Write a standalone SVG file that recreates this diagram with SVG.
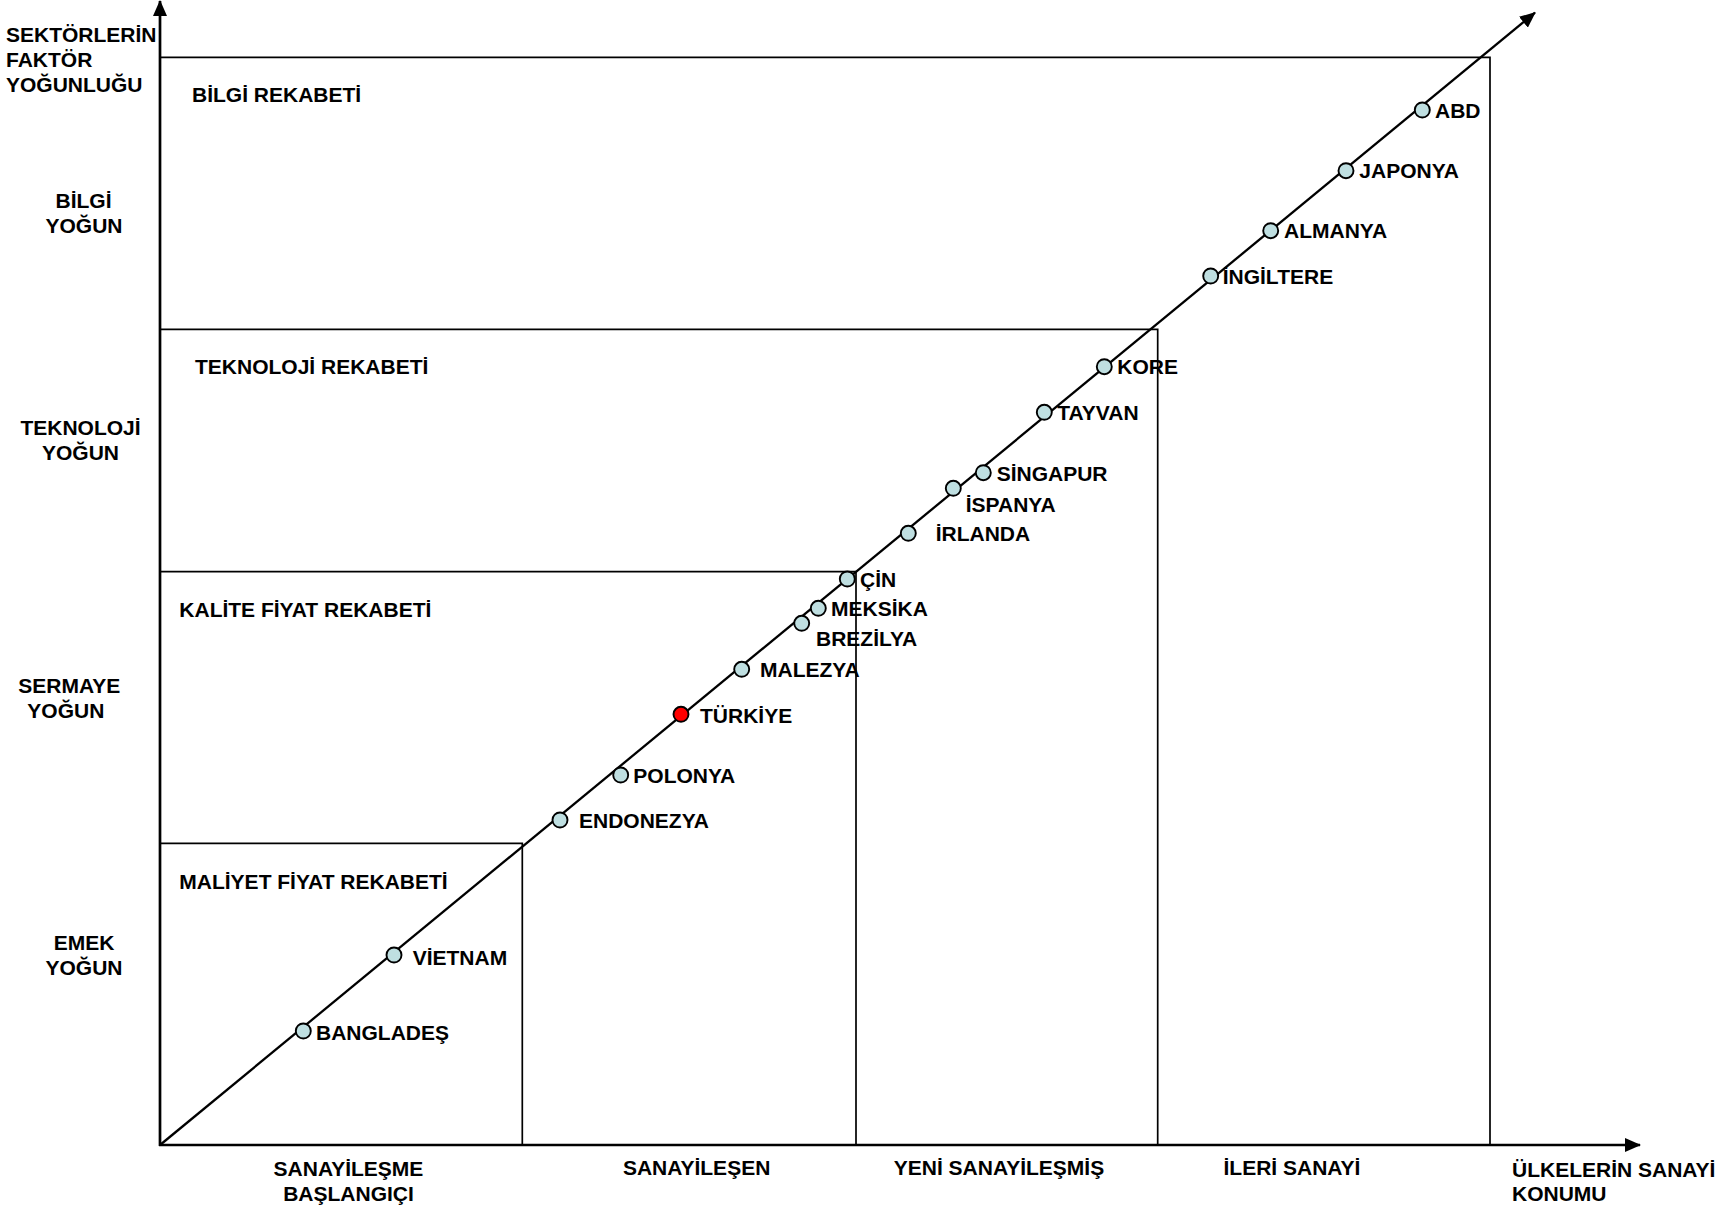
<svg xmlns="http://www.w3.org/2000/svg" width="1728" height="1206" viewBox="0 0 1728 1206">
<style>
text{font-family:"Liberation Sans",Arial,sans-serif;font-weight:bold;font-size:21px;fill:#000}
.m{text-anchor:middle}
.box{fill:none;stroke:#000;stroke-width:1.7}
.axis{fill:none;stroke:#000;stroke-width:2.7}
.diag{fill:none;stroke:#000;stroke-width:2.3}
.pt{fill:#bfdfe1;stroke:#000;stroke-width:1.9}
.red{fill:#ff0000;stroke:#000;stroke-width:1.9}
</style>
<defs>
<marker id="arr" viewBox="0 0 16 14" refX="15" refY="7" markerWidth="16" markerHeight="14" orient="auto" markerUnits="userSpaceOnUse"><path d="M0,0 L16,7 L0,14 z" fill="#000"/></marker>
</defs>
<rect width="1728" height="1206" fill="#fff"/>
<g id="regions">
<polyline class="box" points="160,57.3 1490,57.3 1490,1145"/>
<polyline class="box" points="160,329.3 1157.7,329.3 1157.7,1145"/>
<polyline class="box" points="160,571.7 856,571.7 856,1145"/>
<polyline class="box" points="160,843.3 522.3,843.3 522.3,1145"/>
</g>
<g id="connectors">
<line class="axis" x1="160" y1="1146" x2="160" y2="1" marker-end="url(#arr)"/>
<line class="axis" x1="159" y1="1145" x2="1640" y2="1145" marker-end="url(#arr)"/>
<line class="diag" x1="160" y1="1145" x2="1535" y2="12.7" marker-end="url(#arr)"/>
</g>
<g id="axis-labels">
<text x="6" y="42">SEKTÖRLERİN</text>
<text x="6" y="67">FAKTÖR</text>
<text x="6" y="92">YOĞUNLUĞU</text>
<text class="m" x="83.5" y="208.3">BİLGİ</text>
<text class="m" x="84" y="233.3">YOĞUN</text>
<text class="m" x="80.5" y="435">TEKNOLOJİ</text>
<text class="m" x="80.5" y="460">YOĞUN</text>
<text x="18.3" y="692.7">SERMAYE</text>
<text x="27.3" y="717.7">YOĞUN</text>
<text class="m" x="84" y="950">EMEK</text>
<text class="m" x="84" y="975">YOĞUN</text>
<text class="m" x="348.5" y="1176">SANAYİLEŞME</text>
<text class="m" x="348.5" y="1201">BAŞLANGIÇI</text>
<text class="m" x="696.6" y="1175">SANAYİLEŞEN</text>
<text class="m" x="999" y="1175">YENİ SANAYİLEŞMİŞ</text>
<text class="m" x="1292" y="1175">İLERİ SANAYİ</text>
<text x="1512" y="1177">ÜLKELERİN SANAYİ</text>
<text x="1512" y="1201">KONUMU</text>
</g>
<g id="region-labels">
<text x="192" y="102">BİLGİ REKABETİ</text>
<text x="195" y="374">TEKNOLOJİ REKABETİ</text>
<text x="179.3" y="616.7">KALİTE FİYAT REKABETİ</text>
<text x="179.3" y="889">MALİYET FİYAT REKABETİ</text>
</g>
<g id="node-bangladesh"><circle class="pt" cx="303.3" cy="1031" r="7.5"/><text x="316" y="1040">BANGLADEŞ</text></g>
<g id="node-vietnam"><circle class="pt" cx="394" cy="955" r="7.5"/><text x="412.7" y="965">VİETNAM</text></g>
<g id="node-endonezya"><circle class="pt" cx="560" cy="820" r="7.5"/><text x="579" y="828.3">ENDONEZYA</text></g>
<g id="node-polonya"><circle class="pt" cx="620.7" cy="775" r="7.5"/><text x="633.3" y="782.7">POLONYA</text></g>
<g id="node-turkiye"><circle class="red" cx="681" cy="714.3" r="7.5"/><text x="700" y="722.7">TÜRKİYE</text></g>
<g id="node-malezya"><circle class="pt" cx="741.7" cy="669.3" r="7.5"/><text x="760" y="677.3">MALEZYA</text></g>
<g id="node-brezilya"><circle class="pt" cx="801.7" cy="623.3" r="7.5"/><text x="816" y="646">BREZİLYA</text></g>
<g id="node-meksika"><circle class="pt" cx="818.3" cy="608.3" r="7.5"/><text x="831" y="616">MEKSİKA</text></g>
<g id="node-cin"><circle class="pt" cx="847.3" cy="579" r="7.5"/><text x="860" y="586.7">ÇİN</text></g>
<g id="node-irlanda"><circle class="pt" cx="908.3" cy="533.3" r="7.5"/><text x="935.7" y="540.7">İRLANDA</text></g>
<g id="node-ispanya"><circle class="pt" cx="953.3" cy="488.3" r="7.5"/><text x="965.7" y="511.7">İSPANYA</text></g>
<g id="node-singapur"><circle class="pt" cx="983.3" cy="472.7" r="7.5"/><text x="996.7" y="480.7">SİNGAPUR</text></g>
<g id="node-tayvan"><circle class="pt" cx="1044.3" cy="412.3" r="7.5"/><text x="1057.3" y="420">TAYVAN</text></g>
<g id="node-kore"><circle class="pt" cx="1104.3" cy="366.7" r="7.5"/><text x="1117.3" y="374.3">KORE</text></g>
<g id="node-ingiltere"><circle class="pt" cx="1210.7" cy="276" r="7.5"/><text x="1222.7" y="284">İNGİLTERE</text></g>
<g id="node-almanya"><circle class="pt" cx="1270.7" cy="230.7" r="7.5"/><text x="1284" y="238.3">ALMANYA</text></g>
<g id="node-japonya"><circle class="pt" cx="1346" cy="170.7" r="7.5"/><text x="1359.3" y="178.3">JAPONYA</text></g>
<g id="node-abd"><circle class="pt" cx="1422.3" cy="110" r="7.5"/><text x="1435" y="117.7">ABD</text></g>
</svg>
